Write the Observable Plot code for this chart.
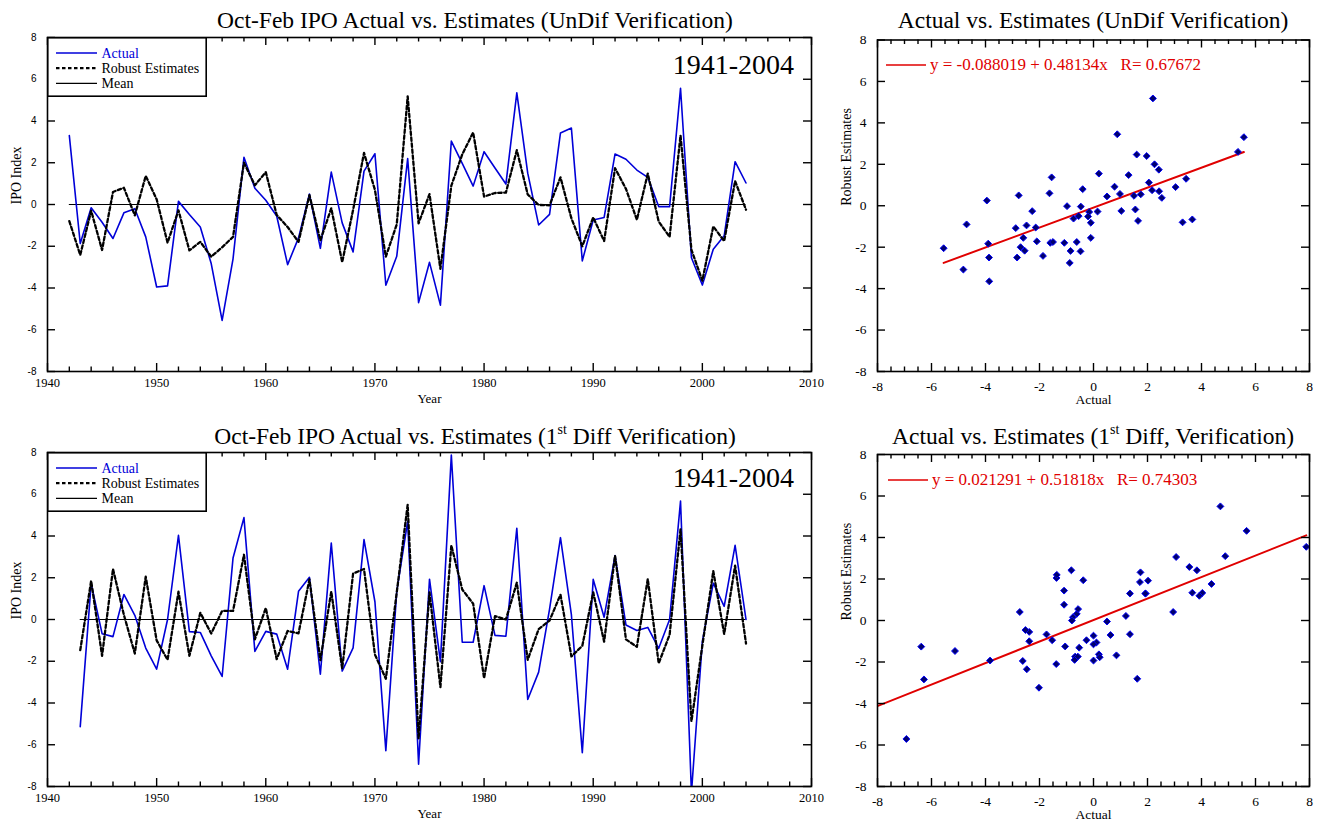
<!DOCTYPE html>
<html>
<head>
<meta charset="utf-8">
<script src="https://cdn.jsdelivr.net/npm/d3@7"></script>
<script src="https://cdn.jsdelivr.net/npm/@observablehq/plot@0.6"></script>
<style>
  html, body { margin: 0; padding: 0; background: #fff; }
  #root { position: relative; width: 1317px; height: 826px; overflow: hidden; background: #fff; font-family: "Liberation Serif", "Times New Roman", serif; }
  .panel { position: absolute; }
  .title { position: absolute; font-size: 23.5px; white-space: nowrap; transform: translate(-50%, -50%); color: #000; }
  .title sup { font-size: 14px; vertical-align: 10px; line-height: 0; }
  .period { position: absolute; font-size: 28px; white-space: nowrap; }
  .legend { position: absolute; }
  .eq { position: absolute; white-space: pre; color: #e00000; font-size: 17px; }
</style>
</head>
<body>
<div id="root"></div>
<script>
// ---------------- data ----------------
const yearsUndif = [1942,1943,1944,1945,1946,1947,1948,1949,1950,1951,1952,1953,1954,1955,1956,1957,1958,1959,1960,1961,1962,1963,1964,1965,1966,1967,1968,1969,1970,1971,1972,1973,1974,1975,1976,1977,1978,1979,1980,1981,1982,1983,1984,1985,1986,1987,1988,1989,1990,1991,1992,1993,1994,1995,1996,1997,1998,1999,2000,2001,2002,2003,2004];
const actualUndif = [3.3,-1.87,-0.16,-0.85,-1.63,-0.4,-0.2,-1.55,-3.95,-3.9,0.15,-0.48,-1.08,-2.83,-5.55,-2.6,2.26,0.78,0.2,-0.55,-2.88,-1.6,0.5,-2.1,1.55,-0.88,-2.27,1.6,2.43,-3.87,-2.48,2.2,-4.7,-2.77,-4.82,3.04,1.97,0.88,2.53,1.75,0.98,5.35,1.5,-0.98,-0.47,3.43,3.66,-2.7,-0.74,-0.62,2.42,2.17,1.65,1.3,-0.1,-0.1,5.57,-2.55,-3.86,-2.14,-1.5,2.05,1.03];
const estUndif = [-0.8,-2.42,-0.3,-2.18,0.6,0.8,-0.52,1.37,0.25,-1.83,-0.28,-2.2,-1.79,-2.5,-2.05,-1.55,2.0,0.92,1.55,-0.5,-1.08,-1.79,0.45,-1.72,-0.18,-2.76,-0.26,2.47,0.7,-2.5,-0.95,5.18,-0.9,0.5,-3.08,0.9,2.4,3.45,0.38,0.55,0.57,2.6,0.48,-0.02,-0.04,1.3,-0.66,-2.0,-0.62,-1.75,1.74,0.75,-0.73,1.48,-0.82,-1.55,3.31,-2.17,-3.65,-1.05,-1.75,1.12,-0.25];

const yearsDiff = [1943,1944,1945,1946,1947,1948,1949,1950,1951,1952,1953,1954,1955,1956,1957,1958,1959,1960,1961,1962,1963,1964,1965,1966,1967,1968,1969,1970,1971,1972,1973,1974,1975,1976,1977,1978,1979,1980,1981,1982,1983,1984,1985,1986,1987,1988,1989,1990,1991,1992,1993,1994,1995,1996,1997,1998,1999,2000,2001,2002,2003,2004];
const actualDiff = [-5.13,1.72,-0.68,-0.82,1.2,0.2,-1.37,-2.38,0.0,4.03,-0.58,-0.62,-1.74,-2.73,2.95,4.88,-1.53,-0.57,-0.7,-2.38,1.35,2.02,-2.62,3.66,-2.47,-1.36,3.83,0.85,-6.28,1.35,4.7,-6.93,1.93,-2.02,7.88,-1.09,-1.09,1.62,-0.76,-0.8,4.37,-3.83,-2.52,0.5,3.92,0.23,-6.38,1.92,0.11,3.06,-0.26,-0.53,-0.38,-1.38,0.0,5.67,-8.3,-1.05,1.74,0.63,3.55,0.0];
const estDiff = [-1.47,1.85,-1.74,2.42,0.22,-1.63,2.05,-1.0,-1.93,1.33,-1.74,0.32,-0.67,0.41,0.41,3.1,-0.95,0.55,-1.9,-0.55,-0.66,1.92,-1.95,1.34,-2.35,2.2,2.42,-1.68,-2.84,1.3,5.5,-5.71,1.3,-3.24,3.55,1.44,0.76,-2.81,0.16,0.0,1.76,-1.93,-0.46,-0.05,1.19,-1.77,-1.26,1.3,-1.06,3.06,-0.95,-1.31,1.94,-2.1,-0.73,4.32,-4.88,-1.25,2.32,-0.7,2.58,-1.15];

const meanValue = 0;
const regUndif = {intercept: -0.088019, slope: 0.48134, r: 0.67672};
const regDiff = {intercept: 0.021291, slope: 0.51818, r: 0.74303};

const yTickValues = [-8,-6,-4,-2,0,2,4,6,8];
const yearMajorTicks = [1940,1950,1960,1970,1980,1990,2000,2010];
const yearMinorTicks = [1942,1944,1946,1948,1952,1954,1956,1958,1962,1964,1966,1968,1972,1974,1976,1978,1982,1984,1986,1988,1992,1994,1996,1998,2002,2004,2006,2008];
const scatterMajorTicks = [-8,-6,-4,-2,0,2,4,6,8];
const scatterMinorTicks = [-7.5,-7,-6.5,-5.5,-5,-4.5,-3.5,-3,-2.5,-1.5,-1,-0.5,0.5,1,1.5,2.5,3,3.5,4.5,5,5.5,6.5,7,7.5];

const titles = {
  lineTop: "Oct-Feb IPO Actual vs. Estimates (UnDif Verification)",
  lineBottom: "Oct-Feb IPO Actual vs. Estimates (1<sup>st</sup> Diff Verification)",
  scatTop: "Actual vs. Estimates (UnDif Verification)",
  scatBottom: "Actual vs. Estimates (1<sup>st</sup> Diff, Verification)"
};
const periodLabel = "1941-2004";
const legendLabels = ["Actual", "Robust Estimates", "Mean"];

// ---------------- styles ----------------
const BLUE = "#0000d8";
const RED = "#e00000";
const DASH = "3.5,2.5";
const SERIF = "Liberation Serif, Times New Roman, serif";
const SANS = "Liberation Sans, Arial, sans-serif";
const TICK_W = 1.4;

const root = document.getElementById("root");

function place(el, left, top) {
  el.classList.add("panel");
  el.style.left = left + "px";
  el.style.top = top + "px";
  root.appendChild(el);
}

// overlay plot: frame plus inward ticks on all four sides (lengths in px, converted to data units)
function tickOverlay(geom, xDom, yDom, xMajor, xMinor, yMajor) {
  const {W, H, mL, mR, mT, mB} = geom;
  const FW = W - mL - mR, FH = H - mT - mB;
  const ux = (xDom[1] - xDom[0]) / FW, uy = (yDom[1] - yDom[0]) / FH;
  const majLen = 8, minLen = 4.5, yLen = 8;
  return Plot.plot({
    width: W, height: H, marginLeft: mL, marginRight: mR, marginTop: mT, marginBottom: mB,
    x: {domain: xDom, axis: null}, y: {domain: yDom, axis: null},
    style: {background: "transparent", overflow: "visible"},
    marks: [
      Plot.ruleX(xMajor, {x: d => d, y1: yDom[0], y2: yDom[0] + majLen * uy, stroke: "#000", strokeWidth: TICK_W}),
      Plot.ruleX(xMajor, {x: d => d, y1: yDom[1], y2: yDom[1] - majLen * uy, stroke: "#000", strokeWidth: TICK_W}),
      Plot.ruleX(xMinor, {x: d => d, y1: yDom[0], y2: yDom[0] + minLen * uy, stroke: "#000", strokeWidth: TICK_W}),
      Plot.ruleX(xMinor, {x: d => d, y1: yDom[1], y2: yDom[1] - minLen * uy, stroke: "#000", strokeWidth: TICK_W}),
      Plot.ruleY(yMajor, {y: d => d, x1: xDom[0], x2: xDom[0] + yLen * ux, stroke: "#000", strokeWidth: TICK_W}),
      Plot.ruleY(yMajor, {y: d => d, x1: xDom[1], x2: xDom[1] - yLen * ux, stroke: "#000", strokeWidth: TICK_W}),
      Plot.frame({stroke: "#000", strokeWidth: 1.6})
    ]
  });
}

function lineGeom(top, frameTop, frameBottom) {
  const W = 830, H = 385;
  return {W, H, mL: 47, mR: 19, mT: frameTop - top, mB: H - (frameBottom - top)};
}
function scatGeom(top, frameTop, frameBottom) {
  const W = 487, H = 385;
  return {W, H, mL: 47, mR: 8, mT: frameTop - top, mB: H - (frameBottom - top)};
}

function linePanel(g, years, actual, est) {
  return Plot.plot({
    width: g.W, height: g.H,
    marginLeft: g.mL, marginRight: g.mR, marginTop: g.mT, marginBottom: g.mB,
    x: {domain: [1940, 2010], axis: null},
    y: {domain: [-8, 8], axis: null},
    style: {fontFamily: SERIF, background: "transparent", overflow: "visible"},
    marks: [
      Plot.ruleY([meanValue], {x1: years[0], x2: years[years.length - 1], stroke: "#000", strokeWidth: 1.2}),
      Plot.line(years, {x: years, y: actual, stroke: BLUE, strokeWidth: 1.6, clip: true}),
      Plot.line(years, {x: years, y: est, stroke: "#000", strokeWidth: 2.3, strokeDasharray: DASH, clip: true}),
      Plot.axisY(yTickValues, {anchor: "left", tickSize: 0, tickPadding: 11, fontFamily: SANS, fontSize: 10, tickFormat: d => String(d), label: null}),
      Plot.axisX(yearMajorTicks, {anchor: "bottom", tickSize: 0, tickPadding: 7, fontSize: 12.5, tickFormat: d => String(d), label: null}),
      Plot.text(["IPO Index"], {frameAnchor: "left", dx: -31, rotate: -90, fontSize: 14}),
      Plot.text(["Year"], {frameAnchor: "bottom", dy: 31, fontSize: 13})
    ]
  });
}

function scatterPanel(g, actual, est, reg) {
  const ext = d3.extent(actual);
  const regPts = ext.map(x => ({x, y: reg.intercept + reg.slope * x}));
  return Plot.plot({
    width: g.W, height: g.H,
    marginLeft: g.mL, marginRight: g.mR, marginTop: g.mT, marginBottom: g.mB,
    x: {domain: [-8, 8], axis: null},
    y: {domain: [-8, 8], axis: null},
    style: {fontFamily: SERIF, background: "transparent", overflow: "visible"},
    marks: [
      Plot.line(regPts, {x: "x", y: "y", stroke: RED, strokeWidth: 2, clip: true}),
      Plot.dot(actual, {x: actual, y: est, symbol: "diamond2", r: 3.1, fill: "#00006e", stroke: "#0000ff", strokeWidth: 1, clip: true}),
      Plot.axisY(yTickValues, {anchor: "left", tickSize: 0, tickPadding: 11, fontSize: 13.5, tickFormat: d => String(d), label: null}),
      Plot.axisX(scatterMajorTicks, {anchor: "bottom", tickSize: 0, tickPadding: 10, fontSize: 13.5, tickFormat: d => String(d), label: null}),
      Plot.text(["Robust Estimates"], {frameAnchor: "left", dx: -31, rotate: -90, fontSize: 14}),
      Plot.text(["Actual"], {frameAnchor: "bottom", dy: 32, fontSize: 13.5})
    ]
  });
}

function addTitle(html, cx, cy) {
  const d = document.createElement("div");
  d.className = "title";
  d.innerHTML = html;
  d.style.left = cx + "px";
  d.style.top = cy + "px";
  root.appendChild(d);
}

function addPeriod(right, baseline) {
  const d = document.createElement("div");
  d.className = "period";
  d.textContent = periodLabel;
  d.style.right = (1317 - right) + "px";
  d.style.top = (baseline - 25) + "px";
  d.style.lineHeight = "28px";
  root.appendChild(d);
}

function addLegend(left, top) {
  const ns = "http://www.w3.org/2000/svg";
  const svg = document.createElementNS(ns, "svg");
  svg.setAttribute("width", 160);
  svg.setAttribute("height", 60);
  svg.setAttribute("class", "legend");
  svg.style.left = left + "px";
  svg.style.top = top + "px";
  const rect = document.createElementNS(ns, "rect");
  rect.setAttribute("x", 0.8); rect.setAttribute("y", 0.8);
  rect.setAttribute("width", 158.4); rect.setAttribute("height", 58.4);
  rect.setAttribute("fill", "#fff"); rect.setAttribute("stroke", "#000"); rect.setAttribute("stroke-width", 1.6);
  svg.appendChild(rect);
  const styles = [
    {stroke: BLUE, w: 1.6, dash: null, color: BLUE},
    {stroke: "#000", w: 2.3, dash: DASH, color: "#000"},
    {stroke: "#000", w: 1.2, dash: null, color: "#000"}
  ];
  legendLabels.forEach((lab, i) => {
    const y = 16 + i * 15.2;
    const ln = document.createElementNS(ns, "line");
    ln.setAttribute("x1", 9); ln.setAttribute("x2", 50);
    ln.setAttribute("y1", y); ln.setAttribute("y2", y);
    ln.setAttribute("stroke", styles[i].stroke); ln.setAttribute("stroke-width", styles[i].w);
    if (styles[i].dash) ln.setAttribute("stroke-dasharray", styles[i].dash);
    svg.appendChild(ln);
    const t = document.createElementNS(ns, "text");
    t.setAttribute("x", 54.5); t.setAttribute("y", y + 4.5);
    t.setAttribute("font-family", SERIF); t.setAttribute("font-size", 14);
    t.setAttribute("fill", styles[i].color);
    t.textContent = lab;
    svg.appendChild(t);
  });
  root.appendChild(svg);
}

function addEquation(reg, lineLeft, lineY) {
  const ns = "http://www.w3.org/2000/svg";
  const svg = document.createElementNS(ns, "svg");
  svg.setAttribute("width", 40); svg.setAttribute("height", 6);
  svg.classList.add("legend");
  svg.style.left = lineLeft + "px"; svg.style.top = (lineY - 3) + "px";
  const ln = document.createElementNS(ns, "line");
  ln.setAttribute("x1", 0); ln.setAttribute("x2", 40); ln.setAttribute("y1", 3); ln.setAttribute("y2", 3);
  ln.setAttribute("stroke", RED); ln.setAttribute("stroke-width", 1.5);
  svg.appendChild(ln);
  root.appendChild(svg);
  const d = document.createElement("div");
  d.className = "eq";
  const sign = reg.intercept < 0 ? "-" : "";
  d.textContent = `y = ${sign}${Math.abs(reg.intercept)} + ${reg.slope}x   R= ${reg.r}`;
  d.style.left = (lineLeft + 44) + "px";
  d.style.top = (lineY - 10) + "px";
  d.style.lineHeight = "19px";
  root.appendChild(d);
}

// ---------------- build ----------------
const gLT = lineGeom(30, 37, 371), gLB = lineGeom(445, 452, 786);
const gST = scatGeom(30, 39.5, 371), gSB = scatGeom(445, 454, 786);

place(linePanel(gLT, yearsUndif, actualUndif, estUndif), 0, 30);
place(tickOverlay(gLT, [1940, 2010], [-8, 8], yearMajorTicks, yearMinorTicks, yTickValues), 0, 30);
place(linePanel(gLB, yearsDiff, actualDiff, estDiff), 0, 445);
place(tickOverlay(gLB, [1940, 2010], [-8, 8], yearMajorTicks, yearMinorTicks, yTickValues), 0, 445);
place(scatterPanel(gST, actualUndif, estUndif, regUndif), 830, 30);
place(tickOverlay(gST, [-8, 8], [-8, 8], scatterMajorTicks, scatterMinorTicks, yTickValues), 830, 30);
place(scatterPanel(gSB, actualDiff, estDiff, regDiff), 830, 445);
place(tickOverlay(gSB, [-8, 8], [-8, 8], scatterMajorTicks, scatterMinorTicks, yTickValues), 830, 445);

addTitle(titles.lineTop, 475, 20);
addTitle(titles.lineBottom, 475, 436);
addTitle(titles.scatTop, 1093, 20);
addTitle(titles.scatBottom, 1093, 436);

addPeriod(794, 76);
addPeriod(794, 489);

addLegend(47, 37);
addLegend(47, 452);

addEquation(regUndif, 886, 65);
addEquation(regDiff, 888, 480);
</script>
</body>
</html>
